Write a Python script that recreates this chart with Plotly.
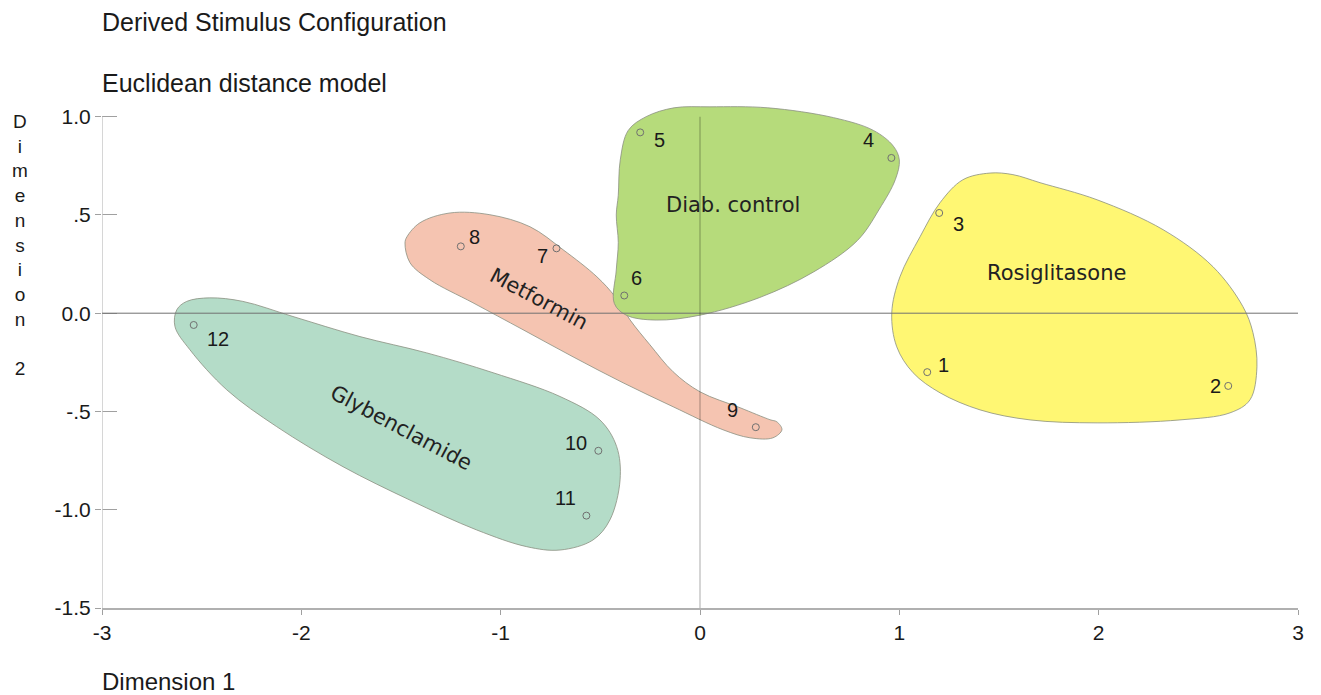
import plotly.graph_objects as go

# ---- data: stimulus coordinates (Dimension 1, Dimension 2) ----
point_labels = ["1", "2", "3", "4", "5", "6", "7", "8", "9", "10", "11", "12"]
dim1 = [1.14, 2.65, 1.20, 0.96, -0.30, -0.38, -0.72, -1.20, 0.28, -0.51, -0.57, -2.54]
dim2 = [-0.30, -0.37, 0.51, 0.79, 0.92, 0.09, 0.33, 0.34, -0.58, -0.70, -1.03, -0.06]
# label offsets in pixels (dx, dy up)
label_dx = [16, -13, 19, -23, 19, 12, -14, 14, -23, -22, -21, 24]
label_dy = [7, 0, -11, 18, -8, 18, -8, 9, 17, 8, 18, -14]

# ---- group outlines (data coordinates) ----
group_names = ["Glybenclamide", "Metformin", "Diab. control", "Rosiglitasone"]
group_colors = ["#B4DCC8", "#F5C4B1", "#B6DB7B", "#FFF773"]

glyb_x = [-2.625, -2.634, -2.559, -2.374, -2.124, -1.791, -1.455, -1.120, -0.869, -0.702,
          -0.537, -0.452, -0.401, -0.418, -0.502, -0.702, -1.038, -1.371, -1.706, -2.042,
          -2.293, -2.459, -2.575]
glyb_y = [0.017, -0.068, -0.186, -0.390, -0.577, -0.781, -0.951, -1.103, -1.188, -1.205,
          -1.154, -1.052, -0.848, -0.679, -0.543, -0.424, -0.303, -0.202, -0.119, -0.017,
          0.060, 0.078, 0.060]

metf_x = [-1.480, -1.455, -1.355, -1.139, -0.888, -0.637, -0.386, -0.135, 0.115, 0.251,
          0.366, 0.411, 0.386, 0.351, 0.201, 0.000, -0.135, -0.251, -0.351, -0.426,
          -0.517, -0.687, -0.853, -1.054, -1.254, -1.405, -1.470]
metf_y = [0.357, 0.257, 0.170, 0.053, -0.084, -0.222, -0.354, -0.476, -0.593, -0.634,
          -0.634, -0.593, -0.553, -0.542, -0.481, -0.400, -0.298, -0.161, -0.034, 0.084,
          0.185, 0.323, 0.440, 0.501, 0.510, 0.460, 0.389]

diab_x = [-0.41, -0.40, -0.36, -0.27, -0.13, 0.05, 0.34, 0.67, 0.87, 0.97, 1.00, 0.98,
          0.90, 0.79, 0.57, 0.30, 0.00, -0.22, -0.37, -0.43, -0.42, -0.41, -0.42]
diab_y = [0.60, 0.78, 0.93, 1.00, 1.045, 1.05, 1.045, 0.995, 0.93, 0.85, 0.78, 0.68,
          0.53, 0.37, 0.21, 0.08, -0.01, -0.035, -0.01, 0.05, 0.22, 0.36, 0.50]

rosi_x = [1.455, 1.319, 1.204, 1.104, 1.003, 0.962, 0.987, 1.069, 1.204, 1.405, 1.656,
          1.992, 2.408, 2.659, 2.759, 2.794, 2.774, 2.724, 2.574, 2.323, 1.992, 1.706, 1.570]
rosi_y = [0.713, 0.679, 0.562, 0.389, 0.185, 0.002, -0.171, -0.303, -0.405, -0.492, -0.543,
          -0.558, -0.543, -0.507, -0.441, -0.273, -0.099, 0.033, 0.236, 0.425, 0.577, 0.664, 0.705]

group_label_x = [-1.497, -0.808, 0.167, 1.786]
group_label_y = [-0.582, 0.070, 0.548, 0.204]
group_label_angle = [28, 28, 0, 0]

x_ticks = [-3, -2, -1, 0, 1, 2, 3]
x_ticktext = ["-3", "-2", "-1", "0", "1", "2", "3"]
y_ticks = [1.0, 0.5, 0.0, -0.5, -1.0, -1.5]
y_ticktext = ["1.0", ".5", "0.0", "-.5", "-1.0", "-1.5"]

outlines = [(glyb_x, glyb_y), (metf_x, metf_y), (diab_x, diab_y), (rosi_x, rosi_y)]

fig = go.Figure()
for (gx, gy), name, col in zip(outlines, group_names, group_colors):
    fig.add_trace(go.Scatter(
        x=gx + gx[:1], y=gy + gy[:1], mode="lines", fill="toself", fillcolor=col,
        line=dict(color="#8a8f80", width=0.8, shape="spline", smoothing=1.0),
        name=name, hoverinfo="skip", showlegend=False))

fig.add_trace(go.Scatter(
    x=dim1, y=dim2, mode="markers", text=point_labels,
    marker=dict(symbol="circle-open", size=7, color="#707070", line=dict(width=1)),
    showlegend=False))

font_main = "Liberation Sans, Arial, sans-serif"
ann = []
for lx, ly, t, dx, dy in zip(dim1, dim2, point_labels, label_dx, label_dy):
    ann.append(dict(x=lx, y=ly, xref="x", yref="y", text=t, showarrow=False,
                    xshift=dx, yshift=dy, font=dict(family=font_main, size=20, color="#1a1a1a")))
for gx, gy, t, a in zip(group_label_x, group_label_y, group_names, group_label_angle):
    ann.append(dict(x=gx, y=gy, xref="x", yref="y", text=t, showarrow=False, textangle=a,
                    font=dict(family="DejaVu Sans, sans-serif", size=21, color="#222222")))

ann += [
    dict(x=-0.002, y=1.1468, xref="paper", yref="paper", text="Derived Stimulus Configuration",
         showarrow=False, xanchor="left", yanchor="middle", font=dict(family=font_main, size=25, color="#1a1a1a")),
    dict(x=-0.002, y=1.0274, xref="paper", yref="paper", text="Euclidean distance model",
         showarrow=False, xanchor="left", yanchor="middle", font=dict(family=font_main, size=25, color="#1a1a1a")),
    dict(x=-0.002, y=-0.1448, xref="paper", yref="paper", text="Dimension 1",
         showarrow=False, xanchor="left", yanchor="middle", font=dict(family=font_main, size=24, color="#1a1a1a")),
    dict(x=-0.0686, y=0.7104, xref="paper", yref="paper",
         text="D<br>i<br>m<br>e<br>n<br>s<br>i<br>o<br>n<br> <br>2",
         showarrow=False, xanchor="center", yanchor="middle", align="center",
         font=dict(family=font_main, size=19, color="#1a1a1a")),
]

fig.update_layout(
    width=1321, height=695,
    margin=dict(l=102, r=23, t=97, b=87),
    paper_bgcolor="white", plot_bgcolor="white",
    annotations=ann,
    xaxis=dict(range=[-3, 3], tickvals=x_ticks, ticktext=x_ticktext, showgrid=False,
               zeroline=False, showline=True, linecolor="#b0b0b0", linewidth=1.5,
               ticks="outside", ticklen=5, tickcolor="#a0a0a0",
               tickfont=dict(family=font_main, size=21, color="#1a1a1a")),
    yaxis=dict(range=[-1.5, 1.1], tickvals=y_ticks, ticktext=y_ticktext, showgrid=False,
               zeroline=False, showline=False,
               ticks="outside", ticklen=6, tickcolor="#a0a0a0",
               tickfont=dict(family=font_main, size=21, color="#1a1a1a")),
    yaxis2=dict(range=[-1.5, 1.1], overlaying="y", side="left", tickvals=y_ticks,
                showticklabels=False, showgrid=False, zeroline=False, showline=False,
                ticks="inside", ticklen=15, tickcolor="#a0a0a0"),
    shapes=[
        dict(type="line", xref="x", yref="y", x0=-3, x1=-3, y0=-1.5, y1=1.0,
             line=dict(color="#c8c8c8", width=1.5), layer="above"),
        dict(type="line", xref="x", yref="y", x0=-3, x1=3, y0=0, y1=0,
             line=dict(color="#707070", width=1), layer="above"),
        dict(type="line", xref="x", yref="y", x0=0, x1=0, y0=-1.5, y1=1.0,
             line=dict(color="rgba(0,0,0,0.22)", width=1.5), layer="above"),
    ],
)
# invisible trace to activate yaxis2 ticks
fig.add_trace(go.Scatter(x=[None], y=[None], yaxis="y2", showlegend=False, hoverinfo="skip"))

fig.write_html("out.html", config={"displayModeBar": False},
               post_script="document.body.style.margin='0px';document.body.style.overflow='hidden';")
